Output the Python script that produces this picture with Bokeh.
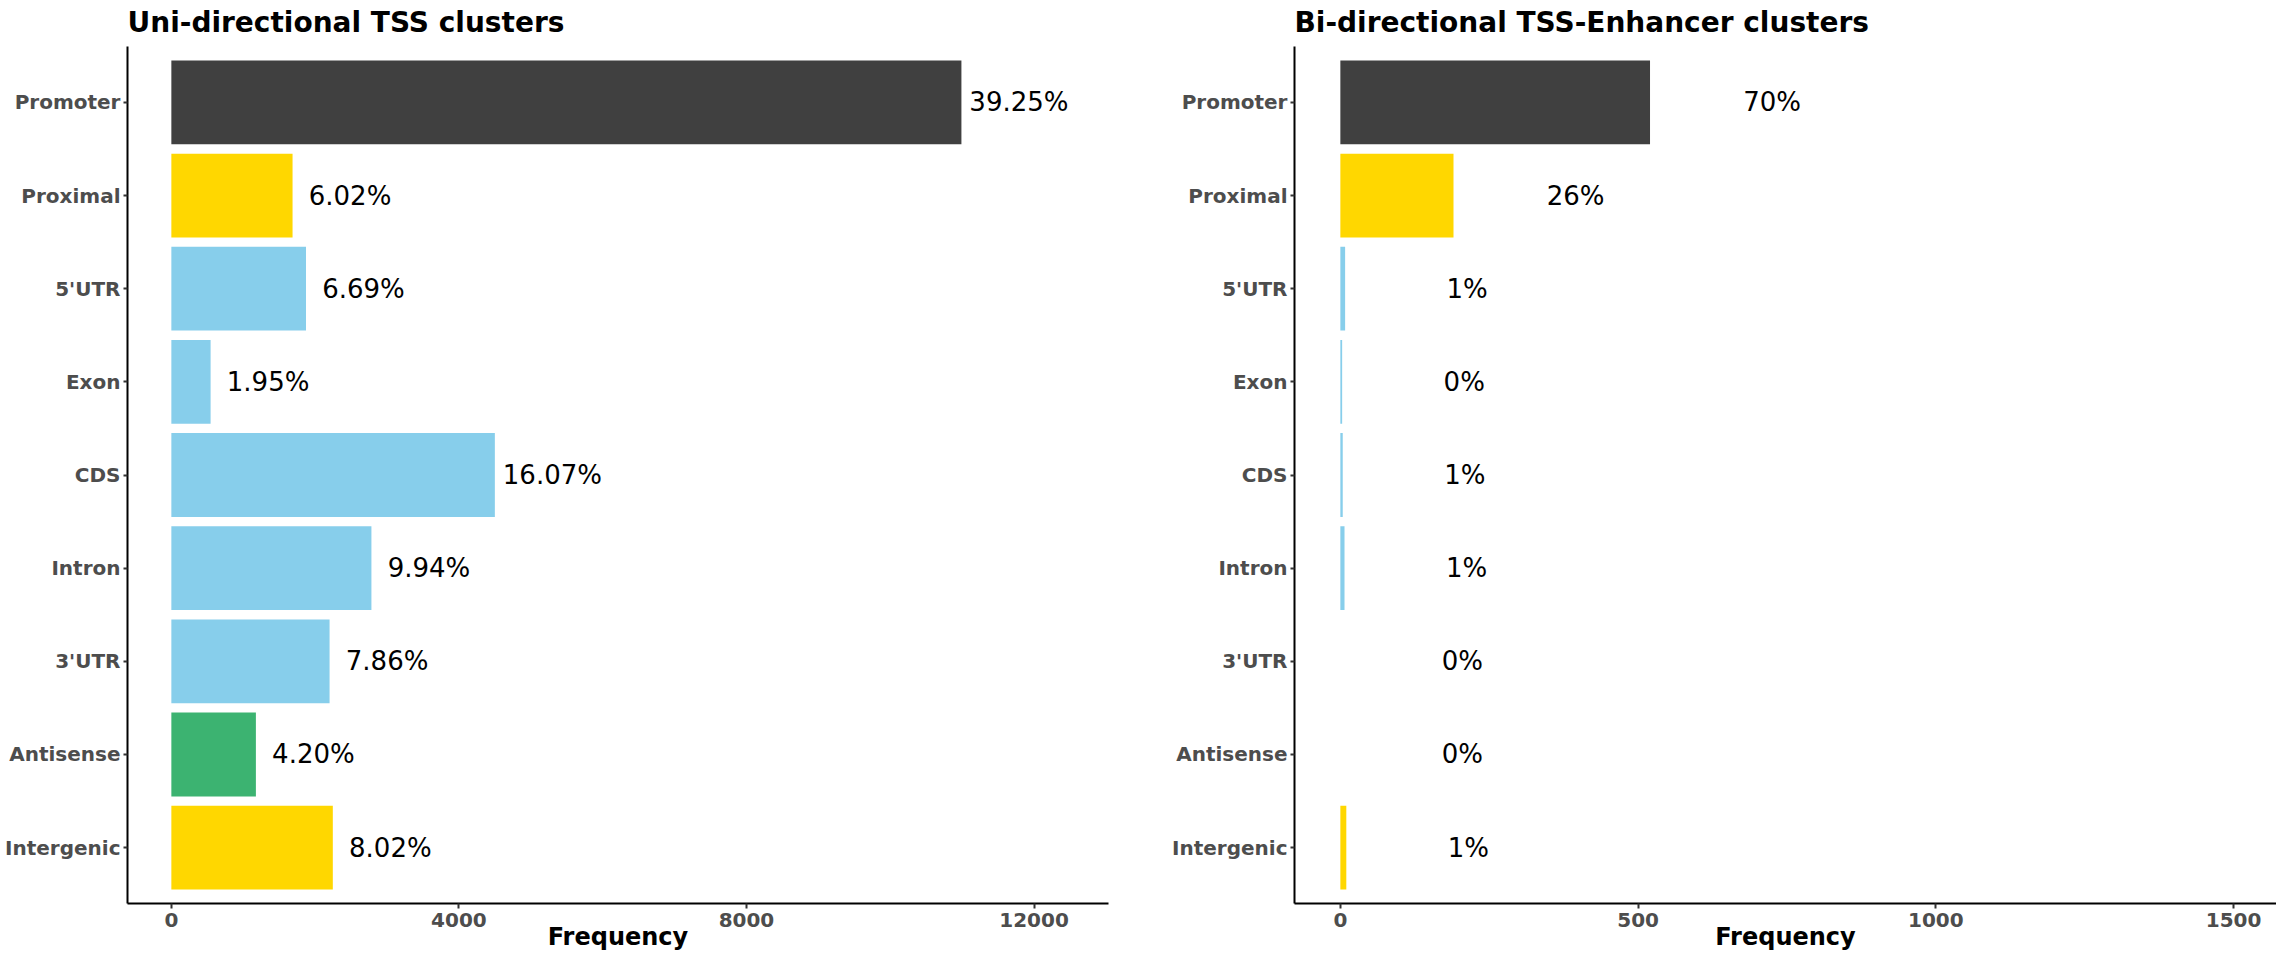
from bokeh.plotting import figure
from bokeh.models import Range1d, FactorRange, FixedTicker, ColumnDataSource
from bokeh.layouts import row
from bokeh.embed import file_html
from bokeh.resources import INLINE
from bokeh.core.properties import value

categories = ["Promoter", "Proximal", "5'UTR", "Exon", "CDS", "Intron", "3'UTR", "Antisense", "Intergenic"]
bar_colors = ["#404040", "#FFD700", "#87CEEB", "#87CEEB", "#87CEEB", "#87CEEB", "#87CEEB", "#3CB371", "#FFD700"]

uni_values = [10990, 1686, 1873, 546, 4500, 2783, 2201, 1176, 2246]
uni_labels = ["39.25%", "6.02%", "6.69%", "1.95%", "16.07%", "9.94%", "7.86%", "4.20%", "8.02%"]
uni_ticks = [0, 4000, 8000, 12000]

bi_values = [520, 190, 8, 3, 4, 7, 0, 0, 10]
bi_labels = ["70%", "26%", "1%", "0%", "1%", "1%", "0%", "0%", "1%"]
bi_ticks = [0, 500, 1000, 1500]

FONT = "DejaVu Sans"
H = 953


def make_panel(title, values, labels, ticks, xstart, xend, label_offset, width, min_left, min_right):
    src = ColumnDataSource(dict(
        cat=categories, val=values, color=bar_colors, label=labels,
        lx=[v + label_offset for v in values],
    ))
    p = figure(
        width=width, height=H,
        y_range=FactorRange(factors=categories[::-1], range_padding=0.1, range_padding_units="absolute"),
        x_range=Range1d(xstart, xend),
        output_backend="svg", toolbar_location=None, title=title,
        min_border_left=min_left, min_border_right=min_right,
        min_border_top=45, min_border_bottom=50,
    )
    p.hbar(y="cat", left=0, right="val", height=0.9, fill_color="color", line_color=None, source=src)
    p.text(x="lx", y="cat", text="label", source=src, text_align="center", text_baseline="middle",
           text_font=value(FONT), text_font_size="26px", text_color="black")

    p.title.text_font = FONT
    p.title.text_font_size = "28px"
    p.title.text_font_style = "bold"
    p.title.text_color = "black"
    p.title.align = "left"
    p.title.vertical_align = "top"
    p.title.standoff = 11

    p.xgrid.visible = False
    p.ygrid.visible = False
    p.outline_line_color = None
    p.background_fill_color = "white"
    p.border_fill_color = "white"

    xa = p.xaxis[0]
    xa.ticker = FixedTicker(ticks=ticks)
    xa.minor_tick_line_color = None
    xa.major_tick_out = 5
    xa.major_tick_in = 0
    xa.major_tick_line_width = 2
    xa.major_tick_line_color = "#333333"
    xa.axis_line_color = "black"
    xa.axis_line_width = 2
    xa.major_label_standoff = 4
    xa.major_label_text_font = FONT
    xa.major_label_text_font_size = "20px"
    xa.major_label_text_font_style = "bold"
    xa.major_label_text_color = "#4D4D4D"
    xa.major_label_text_line_height = 1.0
    xa.axis_label = "Frequency"
    xa.axis_label_standoff = -7
    xa.axis_label_text_font = FONT
    xa.axis_label_text_font_size = "24px"
    xa.axis_label_text_font_style = "bold"
    xa.axis_label_text_color = "black"
    xa.axis_label_text_line_height = 1.0

    ya = p.yaxis[0]
    ya.minor_tick_line_color = None
    ya.major_tick_out = 4
    ya.major_tick_in = 0
    ya.major_tick_line_width = 2
    ya.major_tick_line_color = "#333333"
    ya.axis_line_color = "black"
    ya.axis_line_width = 2
    ya.major_label_standoff = 3
    ya.major_label_text_font = FONT
    ya.major_label_text_font_size = "20px"
    ya.major_label_text_font_style = "bold"
    ya.major_label_text_color = "#4D4D4D"
    return p


p1 = make_panel("Uni-directional TSS clusters", uni_values, uni_labels, uni_ticks,
                -610, 13036, 800, 1169, 127, 61)
p2 = make_panel("Bi-directional TSS-Enhancer clusters", bi_values, bi_labels, bi_ticks,
                -77, 1572, 205, 1107, 124, 0)

layout = row(p1, p2)
open("out.html", "w").write(file_html(layout, INLINE))
